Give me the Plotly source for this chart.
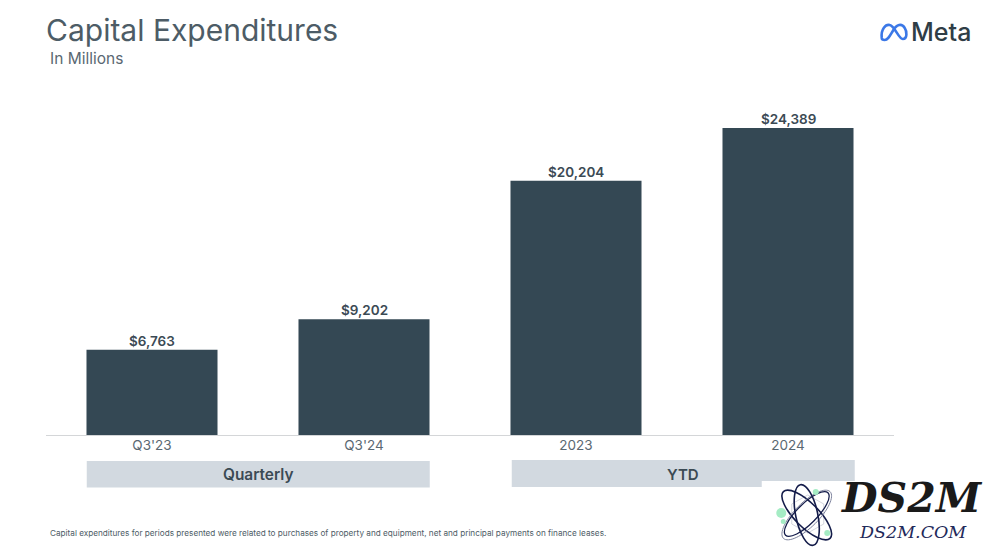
import math
import plotly.graph_objects as go

categories = ["Q3'23", "Q3'24", "2023", "2024"]
values = [6763, 9202, 20204, 24389]
labels = ["$6,763", "$9,202", "$20,204", "$24,389"]

W, H = 1000, 549
L, R, T, B = 46.25, 105.75, 100, 114
FONT = "Inter"
def px(x): return (x - L) / (W - L - R)
def py(y): return (H - B - y) / (H - T - B)
def pth(cmds):
    out = []
    for c in cmds:
        if isinstance(c, str):
            out.append(c)
        else:
            out.append(f"{px(c[0]):.5f},{py(c[1]):.5f}")
    return " ".join(out)

fig = go.Figure(go.Bar(
    x=categories, y=values, cliponaxis=False,
    marker=dict(color="#344854", line=dict(width=0)), hoverinfo="skip", width=0.618,
))

shapes = []
def rect(x0, y0, x1, y1, fill, layer="above"):
    shapes.append(dict(type="rect", xref="paper", yref="paper", x0=px(x0), x1=px(x1),
                       y0=py(y1), y1=py(y0), fillcolor=fill, line=dict(width=0), layer=layer))
def ell(x0, y0, x1, y1, fill):
    shapes.append(dict(type="circle", xref="paper", yref="paper", x0=px(x0), x1=px(x1),
                       y0=py(y1), y1=py(y0), fillcolor=fill, line=dict(width=0)))
def path(cmds, color, w, fill="rgba(0,0,0,0)"):
    shapes.append(dict(type="path", xref="paper", yref="paper", path=pth(cmds), fillcolor=fill,
                       line=dict(color=color, width=w)))
def orbit(cx, cy, a, b, deg, color, w):
    t = math.radians(deg)
    def P(u, v):
        return (cx + u * math.cos(t) - v * math.sin(t), cy + u * math.sin(t) + v * math.cos(t))
    k = 0.5523
    path(["M", P(a, 0),
          "C", P(a, k * b), P(k * a, b), P(0, b),
          "C", P(-k * a, b), P(-a, k * b), P(-a, 0),
          "C", P(-a, -k * b), P(-k * a, -b), P(0, -b),
          "C", P(k * a, -b), P(a, -k * b), P(a, 0), "Z"], color, w)

# group bands
rect(87, 461, 430, 487.5, "#d2d9e0")
rect(512, 460, 855, 487, "#d2d9e0")
# watermark background
rect(762, 481, 1000, 549, "#ffffff")

# Meta mark
path(["M", (882, 38), "C", (881, 29), (886, 24), (890, 25), "C", (895, 26), (899, 39), (903, 39),
      "C", (908, 39), (907, 31), (905, 28), "C", (902, 23), (897, 24), (893, 31),
      "C", (890, 36), (888, 40), (885, 40), "C", (883, 40), (882, 39), (882, 38)], "#3b78e7", 2.6)

# Atom logo of the watermark
path(["M", (808, 495), "L", (824, 504), "L", (824, 524), "L", (808, 533), "L", (792, 524), "L", (792, 504), "Z"],
     "#c9ccd6", 0.8)
orbit(807, 515, 33, 12, 45, "#141c4a", 1.6)
orbit(807, 515, 33, 12, -45, "#7d829c", 1.0)
orbit(807, 515, 31, 11, 78, "#141c4a", 1.6)
orbit(807, 514, 30, 10, 135, "#141c4a", 1.3)
ell(776.5, 508, 786.5, 518, "#a5ecc4")
ell(813, 489, 819, 495, "#a5ecc4")
ell(824.5, 530, 830.5, 536, "#a5ecc4")
ell(781, 519, 786, 524, "#a5ecc4")

def note(x, y, text, size, color, weight=400, anchor="left", family=FONT, style="normal"):
    return dict(xref="paper", yref="paper", x=px(x), y=py(y), text=text, showarrow=False,
                xanchor=anchor, yanchor="middle", borderpad=0, borderwidth=0,
                font=dict(family=family, size=size, color=color, weight=weight, style=style))

annotations = [
    note(46, 30, "Capital Expenditures", 30, "#4d5c66"),
    note(50, 59, "In Millions", 15.5, "#5a6872"),
    note(258.5, 475, "Quarterly", 15.4, "#3b4a54", 600, "center"),
    note(683, 474, "YTD", 15, "#3b4a54", 600, "center"),
    note(50, 533, "Capital expenditures for periods presented were related to purchases of property and equipment, net and principal payments on finance leases.", 8.2, "#4d5c66"),
    note(911, 32, "Meta", 25, "#2f3d46", 500),
    note(912.5, 498, "DS2M", 41, "#1a1a1a", 700, "center", "DejaVu Serif", "italic"),
    note(913, 532, "DS2M.COM", 17.5, "#1f2a5a", 400, "center", "DejaVu Serif", "italic"),
]
for i, (v, t) in enumerate(zip(values, labels)):
    annotations.append(dict(xref="x", yref="y", x=i, y=v, text=t, showarrow=False,
                            yanchor="bottom", yshift=1, borderpad=0, borderwidth=0,
                            font=dict(family=FONT, size=13.5, color="#3b4a54", weight=600)))

fig.update_layout(
    width=W, height=H, autosize=False,
    margin=dict(l=L, r=R, t=T, b=B, pad=0),
    paper_bgcolor="#ffffff", plot_bgcolor="#ffffff",
    showlegend=False, shapes=shapes, annotations=annotations,
    xaxis=dict(type="category", range=[-0.5, 3.5], showgrid=False, ticks="", showline=True,
               linecolor="#d4d6d8", linewidth=1, zeroline=False, ticklabelstandoff=-2,
               tickfont=dict(family=FONT, size=13.5, color="#5a6872")),
    yaxis=dict(range=[0, 26613], visible=False, showgrid=False, zeroline=False),
)
fig.write_html("out.html", config=dict(displayModeBar=False),
               post_script="document.body.style.margin='0';document.body.style.overflow='hidden';")
